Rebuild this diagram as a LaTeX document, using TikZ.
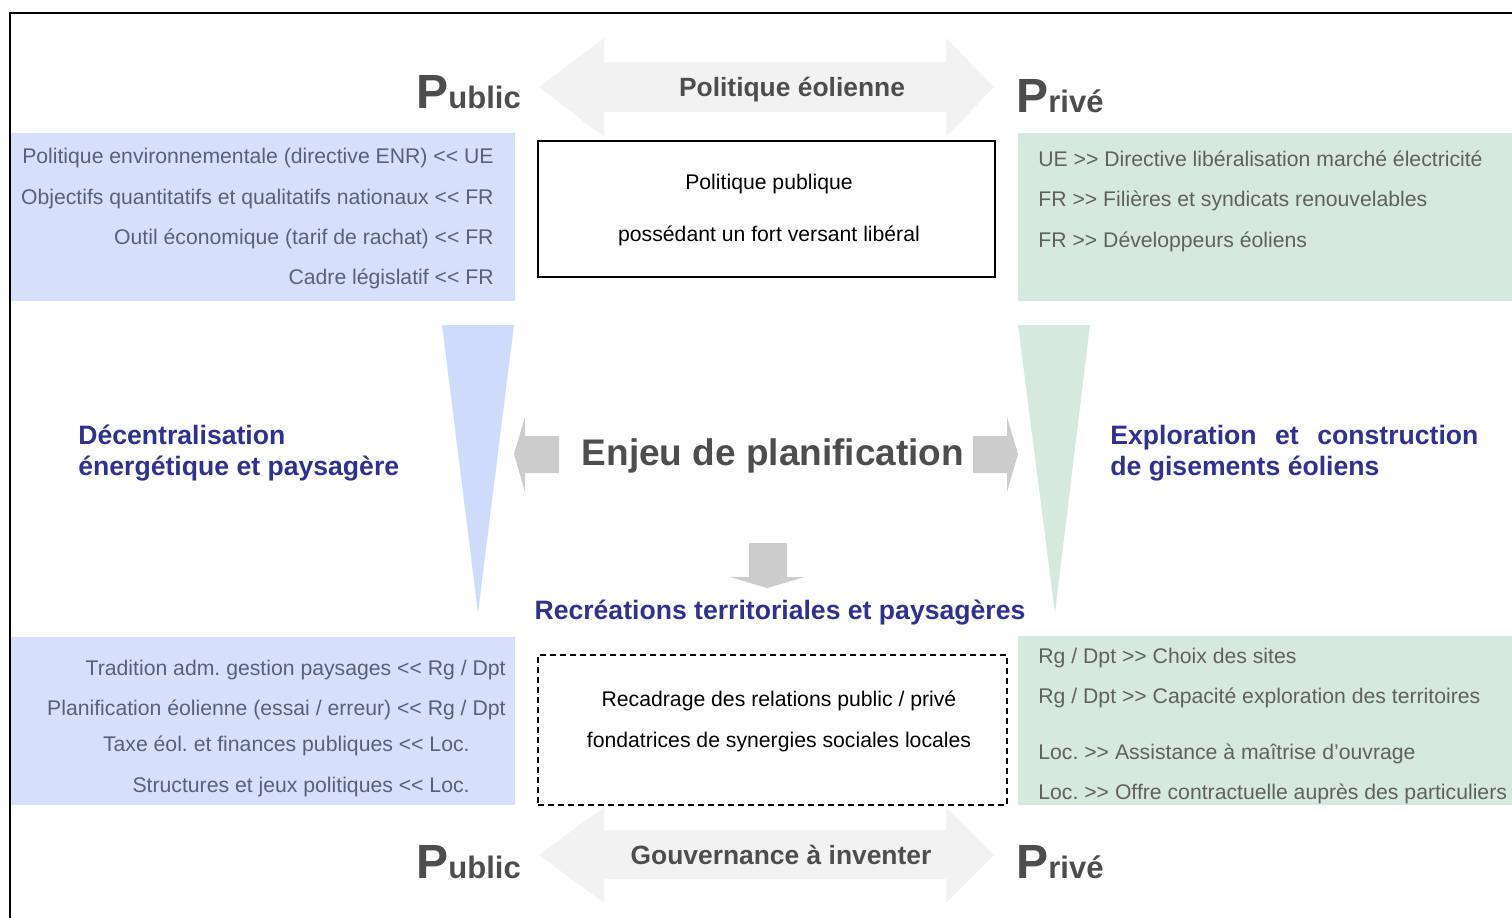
\documentclass[tikz,border=0pt]{standalone}
\usepackage{fontspec}
\setmainfont{Liberation Sans}[Ligatures=TeXOff]
\frenchspacing
\usetikzlibrary{positioning}
\definecolor{pubbox}{RGB}{214,224,252}
\definecolor{pubwedge}{RGB}{206,219,252}
\definecolor{privbox}{RGB}{214,233,223}
\definecolor{pubtext}{RGB}{88,96,122}
\definecolor{privtext}{RGB}{96,96,96}
\definecolor{headblue}{RGB}{46,49,146}
\definecolor{darktext}{RGB}{77,77,77}
\definecolor{lightarrow}{RGB}{242,242,242}
\definecolor{midarrow}{RGB}{204,204,204}
\begin{document}
\begin{tikzpicture}[x=0.5pt,y=-0.5pt,
	txt/.style={inner sep=0pt, font=\fontsize{10.6}{12}\selectfont},
	publine/.style={txt, text=pubtext, anchor=base east},
	privline/.style={txt, text=privtext, anchor=base west},
	heading/.style={inner sep=0pt, font=\bfseries\fontsize{13.3}{15.5}\selectfont, text=headblue},
	side/.style={inner sep=0pt, font=\bfseries, text=darktext, anchor=base west},
	flow/.style={inner sep=0pt, font=\bfseries\fontsize{13.2}{15}\selectfont, text=darktext},
]
	\useasboundingbox (0,0) rectangle (1512,917);
	\clip (0,0) rectangle (1512,917);
	\draw[line width=1pt] (10,13) rectangle (1540,950);
	% coloured boxes
	\fill[pubbox] (11,133) rectangle (515,301);
	\fill[privbox] (1018,133) rectangle (1540,301);
	\fill[pubbox] (11,637) rectangle (515,805);
	\fill[privbox] (1018,636) rectangle (1540,805);
	% wedges
	\fill[pubwedge] (442,325) -- (514,325) -- (478,613) -- cycle;
	\fill[privbox] (1018,325) -- (1090,325) -- (1055,613) -- cycle;
	% big double arrows
	\fill[lightarrow] (539,87) -- (604,38) -- (604,62) -- (946,62) -- (946,38) -- (994,87)
		-- (946,137) -- (946,112) -- (604,112) -- (604,137) -- cycle;
	\fill[lightarrow] (539,855) -- (604,807) -- (604,830) -- (946,830) -- (946,807) -- (994,855)
		-- (946,903) -- (946,879) -- (604,879) -- (604,903) -- cycle;
	% small grey arrows
	\fill[midarrow] (559,436) -- (525,436) -- (525,417) -- (514,454) -- (525,492) -- (525,473) -- (559,473) -- cycle;
	\fill[midarrow] (973,436) -- (1007,436) -- (1007,417) -- (1018,454) -- (1007,492) -- (1007,473) -- (973,473) -- cycle;
	\fill[midarrow] (749,543) -- (787,543) -- (787,577) -- (805,577) -- (767,588) -- (730,577) -- (749,577) -- cycle;

	% Public / Prive
	\node[side] (pubtop) at (416,108) {\fontsize{24}{24}\selectfont P\fontsize{15.5}{16}\selectfont ublic};
	\node[side] (privtop) at (1016,112) {\fontsize{24}{24}\selectfont P\fontsize{15.5}{16}\selectfont rivé};
	\node[side] (pubbot) at (416,878) {\fontsize{24}{24}\selectfont P\fontsize{15.5}{16}\selectfont ublic};
	\node[side] (privbot) at (1016,878) {\fontsize{24}{24}\selectfont P\fontsize{15.5}{16}\selectfont rivé};
	\node[flow] (eol) at (792,90) {Politique éolienne};
	\node[flow] (gouv) at (781,855) {Gouvernance à inventer};

	% top left
	\node[publine] (p1) at (494,163.5) {Politique environnementale (directive ENR) << UE};
	\node[publine] (p2) at (494,204.5) {Objectifs quantitatifs et qualitatifs nationaux << FR};
	\node[publine] (p3) at (494,244.5) {Outil économique (tarif de rachat) << FR};
	\node[publine] (p4) at (494,284.5) {Cadre législatif << FR};
	% top right
	\node[privline] (r1) at (1038,166.5) {UE >> Directive libéralisation marché électricité};
	\node[privline] (r2) at (1038,206.5) {FR >> Filières et syndicats renouvelables};
	\node[privline] (r3) at (1038,247.5) {FR >> Développeurs éoliens};
	% bottom left
	\node[publine] (p5) at (506,675.5) {Tradition adm. gestion paysages << Rg / Dpt};
	\node[publine] (p6) at (506,715.5) {Planification éolienne (essai / erreur) << Rg / Dpt};
	\node[publine] (p7) at (470,751.5) {Taxe éol. et finances publiques << Loc.};
	\node[publine] (p8) at (470,792.5) {Structures et jeux politiques << Loc.};
	% bottom right
	\node[privline] (r4) at (1038,663.5) {Rg / Dpt >> Choix des sites};
	\node[privline] (r5) at (1038,703.5) {Rg / Dpt >> Capacité exploration des territoires};
	\node[privline] (r6) at (1038,759.5) {Loc. >> Assistance à maîtrise d’ouvrage};
	\node[privline] (r7) at (1038,799.5) {Loc. >> Offre contractuelle auprès des particuliers};

	% centre boxes
	\node[draw, line width=0.8pt, minimum width=228.5pt, minimum height=68pt] (polpub) at (766.5,209) {};
	\node[txt, align=center, font=\fontsize{10.6}{26}\selectfont] (polpubtxt) at (769,210) {Politique publique\\possédant un fort versant libéral};
	\node[draw, dashed, line width=0.75pt, dash pattern=on 3pt off 2pt, minimum width=234.5pt, minimum height=75pt] (recad) at (772.5,730) {};
	\node[txt, align=center, font=\fontsize{10.6}{20.5}\selectfont] (recadtxt) at (779,721.5) {Recadrage des relations public / privé\\fondatrices de synergies sociales locales};

	% headings
	\node[heading, align=left, anchor=west] (decent) at (78,453) {Décentralisation\\énergétique et paysagère};
	\node[heading, align=left, anchor=west] (explo) at (1110,453) {\makebox[184pt][s]{Exploration et construction}\\de gisements éoliens};
	\node[heading] (recre) at (780,613) {Recréations territoriales et paysagères};
	\node[inner sep=0pt, font=\bfseries\fontsize{18.5}{20}\selectfont, text=darktext] (enjeu) at (773,456) {Enjeu de planification};
\end{tikzpicture}
\end{document}
